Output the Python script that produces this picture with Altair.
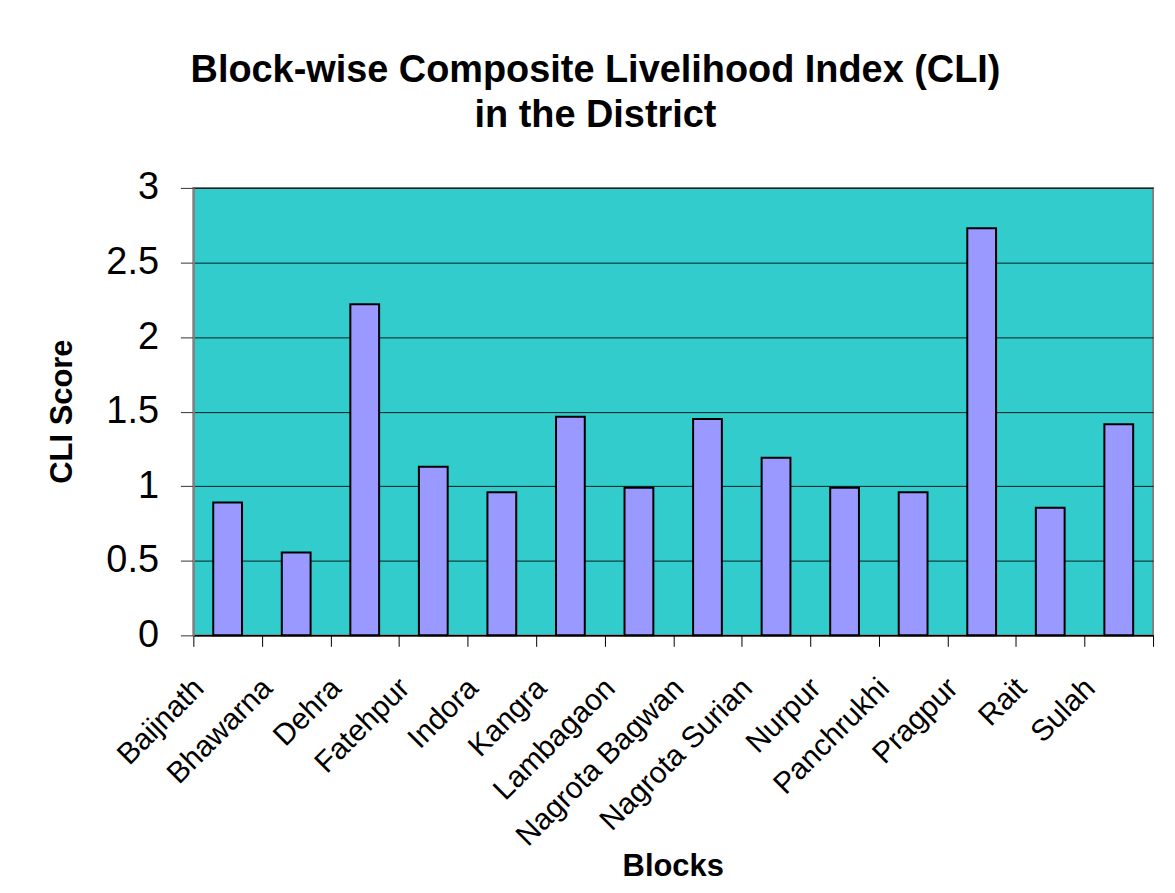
import altair as alt
import pandas as pd

blocks = ["Baijnath", "Bhawarna", "Dehra", "Fatehpur", "Indora", "Kangra", "Lambagaon",
          "Nagrota Bagwan", "Nagrota Surian", "Nurpur", "Panchrukhi", "Pragpur", "Rait", "Sulah"]
cli_scores = [0.89, 0.555, 2.22, 1.13, 0.96, 1.465, 0.99, 1.45, 1.19, 0.99, 0.96, 2.73, 0.855, 1.415]
y_ticks = [0, 0.5, 1, 1.5, 2, 2.5, 3]

df = pd.DataFrame({"Block": blocks, "CLI": cli_scores})

FONT = "Liberation Sans"

bars = alt.Chart(df).mark_bar(
    color="#9999FF", stroke="#000000", strokeWidth=2,
    width=alt.RelativeBandSize(0.42),
).encode(
    x=alt.X("Block:N", sort=blocks,
            scale=alt.Scale(paddingInner=0, paddingOuter=0),
            axis=alt.Axis(title="Blocks", labelAngle=-45, labelAlign="right",
                          labelBaseline="middle", labelFontSize=30, labelPadding=37,
                          labelOffset=-29, labelLimit=0, tickBand="extent", tickSize=11,
                          tickColor="#000000", domainColor="#000000", domainWidth=1.5,
                          titleFontSize=31, titleFontWeight="bold",
                          titleX=481, titleY=241, titleBaseline="alphabetic",
                          labelColor="#000000", titleColor="#000000", grid=False)),
    y=alt.Y("CLI:Q", scale=alt.Scale(domain=[0, 3], nice=False),
            axis=alt.Axis(title="CLI Score", values=y_ticks, format="~g",
                          labelFontSize=38, labelPadding=22, tickSize=13,
                          tickColor="#333333", domainColor="#808080", domainWidth=2,
                          grid=True, gridColor="#000000", gridWidth=1, gridOpacity=0.85,
                          titleFontSize=31, titleFontWeight="bold",
                          titleX=-122, titleY=224, titleBaseline="alphabetic",
                          labelColor="#000000", titleColor="#000000")),
)

chart = bars.properties(
    width=963,
    height=449,
    title=alt.TitleParams(
        text=["Block-wise Composite Livelihood Index (CLI)", "in the District"],
        fontSize=38, fontWeight="bold", font=FONT, color="#000000",
        lineHeight=45, anchor="middle", dx=-78, offset=34,
    ),
    autosize=alt.AutoSizeParams(type="none"),
    padding={"left": 186, "top": 179, "right": 14, "bottom": 250},
).configure(
    font=FONT,
    background="#FFFFFF",
).configure_axis(
    labelFont=FONT, titleFont=FONT,
).configure_view(
    fill="#33CCCC", stroke="#808080", strokeWidth=2,
)

chart.save("out.html", embed_options={"renderer": "svg", "actions": False})
